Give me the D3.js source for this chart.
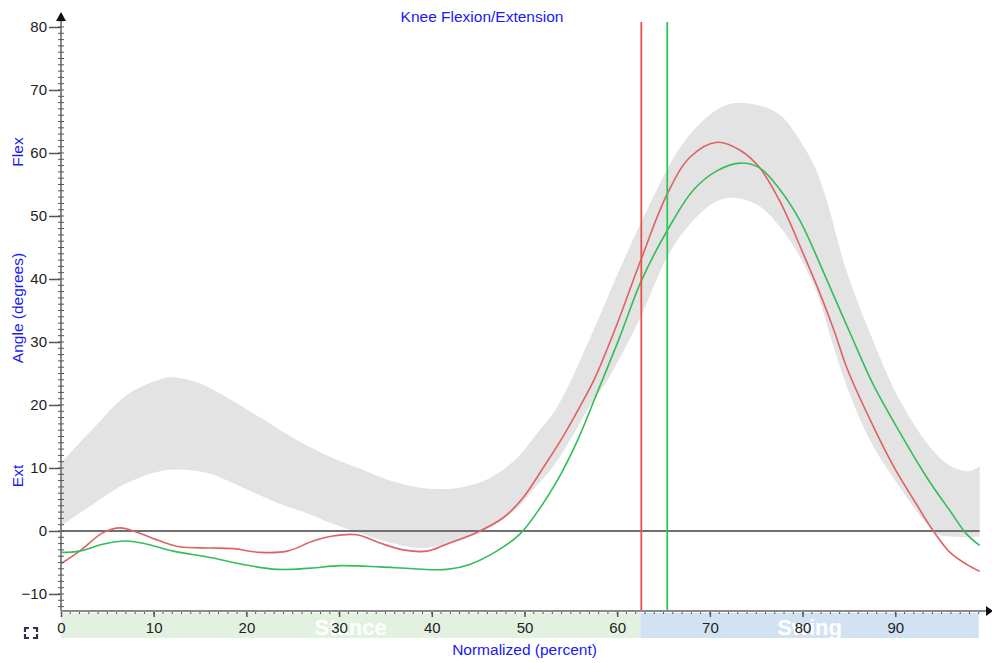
<!DOCTYPE html>
<html lang='en'>

<head>
    <meta charset='utf-8'>
    <title>Knee Flexion/Extension</title>
    <style>
        body {
            margin: 0;
            background-color: #fff;
            font-family: 'Liberation Sans', Arial, sans-serif;
        }

        svg {
            display: block;
        }
    </style>
    <script src='https://d3js.org/d3.v7.min.js' charset='utf-8'></script>
</head>

<body>
    <script type="text/javascript">
        const WIDTH = 992;
        const HEIGHT = 663;

        // [percent of gait cycle, angle in degrees]
        const bandUpper = [[0, 10.8], [3.5, 16.3], [7.1, 21.6], [10.7, 24.1], [12.1, 24.4], [15.0, 23.4], [17.9, 21.2],
            [21.5, 18.0], [25.0, 14.8], [28.7, 12.0], [32.6, 9.7], [36.2, 7.7], [39.8, 6.7], [43.4, 7.0], [46.3, 8.4],
            [49.2, 11.6], [51.3, 15.4], [53.5, 19.6], [57.1, 30.7], [59.9, 40.3], [63.2, 50.9], [66.8, 60.9],
            [69.7, 65.7], [72.2, 67.8], [75.1, 67.6], [77.6, 66.0], [79.7, 62.0], [81.3, 57.8], [82.6, 52.5],
            [84.6, 41.9], [87.3, 31.3], [90.5, 20.7], [94.1, 12.7], [96.2, 10.1], [98.1, 9.5], [99.1, 10.3]];
        const bandLower = [[0, 0.8], [3.5, 4.3], [7.1, 7.6], [10.7, 9.5], [13.6, 9.7], [16.1, 9.1], [19.6, 6.9],
            [23.3, 4.5], [26.9, 2.6], [29.0, 1.3], [32.6, -0.5], [36.2, -2.1], [38.7, -2.7], [41.6, -2.1], [44.4, -0.8],
            [47.0, 1.2], [49.2, 3.6], [51.3, 7.2], [53.1, 10.2], [55.2, 15.1], [57.4, 20.7], [58.9, 23.8], [62.5, 33.9],
            [65.4, 43.5], [67.9, 48.8], [70.3, 52.0], [72.2, 52.9], [75.1, 51.8], [77.6, 48.2], [79.7, 43.5],
            [81.6, 37.6], [82.9, 31.3], [84.8, 22.8], [87.3, 14.3], [90.5, 6.9], [93.4, 1.1], [94.5, -0.5],
            [96.4, -0.9], [99.1, -0.9]];
        const leftKnee = [[0, -5.2], [2.0, -3.2], [4.5, -0.3], [6.4, 0.5], [8.2, -0.2], [10.7, -1.6], [12.8, -2.5],
            [16.1, -2.7], [18.6, -2.8], [21.5, -3.4], [24.4, -3.2], [27.2, -1.6], [29.3, -0.8], [31.9, -0.6],
            [34.4, -1.9], [36.9, -3.0], [39.5, -3.2], [41.6, -2.1], [44.9, -0.2], [47.7, 2.1], [49.8, 5.2],
            [52.0, 10.0], [54.2, 15.1], [56.3, 20.6], [57.6, 24.3], [60.0, 32.9], [62.6, 43.2], [65.4, 53.5],
            [67.9, 59.4], [70.8, 61.7], [73.3, 60.4], [75.4, 57.6], [77.6, 52.2], [79.9, 44.6], [81.9, 37.6],
            [83.4, 31.8], [84.8, 25.8], [87.3, 17.6], [89.8, 10.3], [92.3, 4.2], [94.1, 0.0], [95.9, -3.4],
            [97.7, -5.3], [99.1, -6.4]];
        const rightKnee = [[0, -3.4], [2.0, -3.2], [4.5, -2.1], [7.1, -1.6], [9.3, -2.1], [12.1, -3.2], [16.1, -4.2],
            [19.6, -5.3], [23.3, -6.1], [26.9, -5.9], [30.1, -5.5], [34.4, -5.7], [38.0, -6.0], [41.6, -6.1],
            [44.1, -5.3], [47.0, -3.2], [49.5, -0.5], [51.7, 3.7], [53.5, 7.9], [55.7, 14.3], [57.8, 21.8],
            [60.2, 30.5], [62.6, 39.7], [65.4, 47.7], [68.2, 54.1], [70.8, 57.2], [73.3, 58.4], [75.4, 57.6],
            [77.6, 54.1], [79.7, 49.3], [82.9, 38.9], [85.1, 31.5], [87.6, 23.3], [90.5, 15.6], [93.4, 8.5],
            [95.9, 3.2], [97.7, -0.5], [99.1, -2.3]];
        const toeOff = [62.6, 65.4]; // left (red), right (green)
        const phases = [
            { name: 'Stance', from: 0, to: 62.5 },
            { name: 'Swing', from: 62.5, to: 99 }
        ];
        const xTicks = [0, 10, 20, 30, 40, 50, 60, 70, 80, 90];
        const yTicks = [-10, 0, 10, 20, 30, 40, 50, 60, 70, 80];

        const BLUE = '#1a1af0';

        var x = d3.scaleLinear().domain([0, 100]).range([61, 988]);
        var y = d3.scaleLinear().domain([-12.7, 82]).range([611, 14.4]);

        var svg = d3.select('body')
            .append('svg')
            .attr('width', WIDTH)
            .attr('height', HEIGHT);

        // stance / swing strip under the x axis
        svg.selectAll('.phase')
            .data(phases)
            .enter()
            .append('rect')
            .attr('x', function (d) { return x(d.from); })
            .attr('width', function (d) { return x(d.to) - x(d.from); })
            .attr('y', 613)
            .attr('height', 25)
            .attr('fill', function (d, i) { return i === 0 ? '#e3f1e0' : '#d2e2f3'; });

        svg.selectAll('.phaseName')
            .data(phases)
            .enter()
            .append('text')
            .text(function (d) { return d.name; })
            .attr('x', function (d) { return (x(d.from) + x(d.to)) / 2; })
            .attr('y', 627)
            .attr('dy', '0.35em')
            .attr('text-anchor', 'middle')
            .attr('font-size', '22px')
            .attr('font-weight', 'bold')
            .attr('fill', '#fff');

        // normal band
        var line = d3.line()
            .x(function (d) { return x(d[0]); })
            .y(function (d) { return y(d[1]); })
            .curve(d3.curveCatmullRom);

        var upperPath = line(bandUpper);
        var lowerPath = line(bandLower.slice().reverse());
        svg.append('path')
            .attr('d', upperPath + 'L' + lowerPath.slice(1) + 'Z')
            .attr('fill', '#e3e3e3');

        // zero line
        svg.append('line')
            .attr('x1', x(0))
            .attr('x2', x(99.1))
            .attr('y1', y(0))
            .attr('y2', y(0))
            .attr('stroke', '#707070')
            .attr('stroke-width', 1.8);

        svg.append('path')
            .attr('d', line(leftKnee))
            .attr('fill', 'none')
            .attr('stroke', '#de6262')
            .attr('stroke-width', 1.6);

        svg.append('path')
            .attr('d', line(rightKnee))
            .attr('fill', 'none')
            .attr('stroke', '#33bd58')
            .attr('stroke-width', 1.6);

        // toe off markers
        svg.selectAll('.toeOff')
            .data(toeOff)
            .enter()
            .append('line')
            .attr('x1', function (d) { return x(d); })
            .attr('x2', function (d) { return x(d); })
            .attr('y1', 22)
            .attr('y2', y(-12.7))
            .attr('stroke', function (d, i) { return i === 0 ? '#e8524b' : '#2cc75a'; })
            .attr('stroke-width', 1.8);

        // y axis
        var yAxis = svg.append('g')
            .attr('transform', 'translate(' + x(0) + ',0)')
            .call(d3.axisLeft(y).tickValues(yTicks).tickSize(12).tickPadding(2));
        yAxis.select('.domain').remove();
        yAxis.selectAll('.tick line').attr('stroke', '#555').attr('stroke-width', 1.5);
        yAxis.selectAll('.tick text')
            .attr('font-size', '15px')
            .attr('font-family', "'Liberation Sans', Arial, sans-serif")
            .attr('fill', '#222')
            .attr('dy', '0.3em');

        svg.append('line')
            .attr('x1', x(0)).attr('x2', x(0))
            .attr('y1', y(-12.7)).attr('y2', 20)
            .attr('stroke', '#8a8a8a')
            .attr('stroke-width', 2);

        svg.selectAll('.yMinor')
            .data(d3.range(-12, 82))
            .enter()
            .append('line')
            .attr('x1', x(0) - 3)
            .attr('x2', x(0) + 3)
            .attr('y1', function (d) { return y(d); })
            .attr('y2', function (d) { return y(d); })
            .attr('stroke', '#555')
            .attr('stroke-width', 1);

        svg.append('path')
            .attr('d', 'M' + x(0) + ',12 l-5,9 h10 z')
            .attr('fill', '#111');

        // x axis
        var xAxis = svg.append('g')
            .attr('transform', 'translate(0,' + y(-12.7) + ')')
            .call(d3.axisBottom(x).tickValues(xTicks).tickSize(6));
        xAxis.select('.domain').remove();
        xAxis.selectAll('.tick line').attr('stroke', '#555').attr('stroke-width', 1.5);
        xAxis.selectAll('.tick text')
            .attr('font-size', '15px')
            .attr('font-family', "'Liberation Sans', Arial, sans-serif")
            .attr('fill', '#222')
            .attr('y', 17)
            .attr('dy', '0.35em');

        svg.selectAll('.xMinor')
            .data(d3.range(1, 100))
            .enter()
            .append('line')
            .attr('x1', function (d) { return x(d); })
            .attr('x2', function (d) { return x(d); })
            .attr('y1', y(-12.7))
            .attr('y2', y(-12.7) + 3)
            .attr('stroke', '#555')
            .attr('stroke-width', 1);

        svg.append('line')
            .attr('x1', x(0)).attr('x2', 988)
            .attr('y1', y(-12.7)).attr('y2', y(-12.7))
            .attr('stroke', '#8a8a8a')
            .attr('stroke-width', 2);

        svg.append('path')
            .attr('d', 'M993,' + y(-12.7) + ' l-7,-5 v10 z')
            .attr('fill', '#111');

        // titles
        svg.append('text')
            .text('Knee Flexion/Extension')
            .attr('x', 482)
            .attr('y', 17)
            .attr('dy', '0.35em')
            .attr('text-anchor', 'middle')
            .attr('font-size', '15.5px')
            .attr('fill', BLUE);

        svg.append('text')
            .text('Normalized (percent)')
            .attr('x', x(50))
            .attr('y', 650)
            .attr('dy', '0.35em')
            .attr('text-anchor', 'middle')
            .attr('font-size', '15.5px')
            .attr('fill', BLUE);

        var sideLabels = [['Flex', 152], ['Angle (degrees)', 308], ['Ext', 476]];
        svg.selectAll('.sideLabel')
            .data(sideLabels)
            .enter()
            .append('text')
            .text(function (d) { return d[0]; })
            .attr('transform', function (d) { return 'translate(18,' + d[1] + ') rotate(-90)'; })
            .attr('dy', '0.35em')
            .attr('text-anchor', 'middle')
            .attr('font-size', '15.5px')
            .attr('fill', BLUE);

        // little full screen icon
        svg.append('path')
            .attr('d', 'M25,632 V628 H29 M33,628 H37 V632 M25,634 V638 H29 M33,638 H37 V634')
            .attr('fill', 'none')
            .attr('stroke', '#2b3550')
            .attr('stroke-width', 2.2);
    </script>
</body>

</html>
